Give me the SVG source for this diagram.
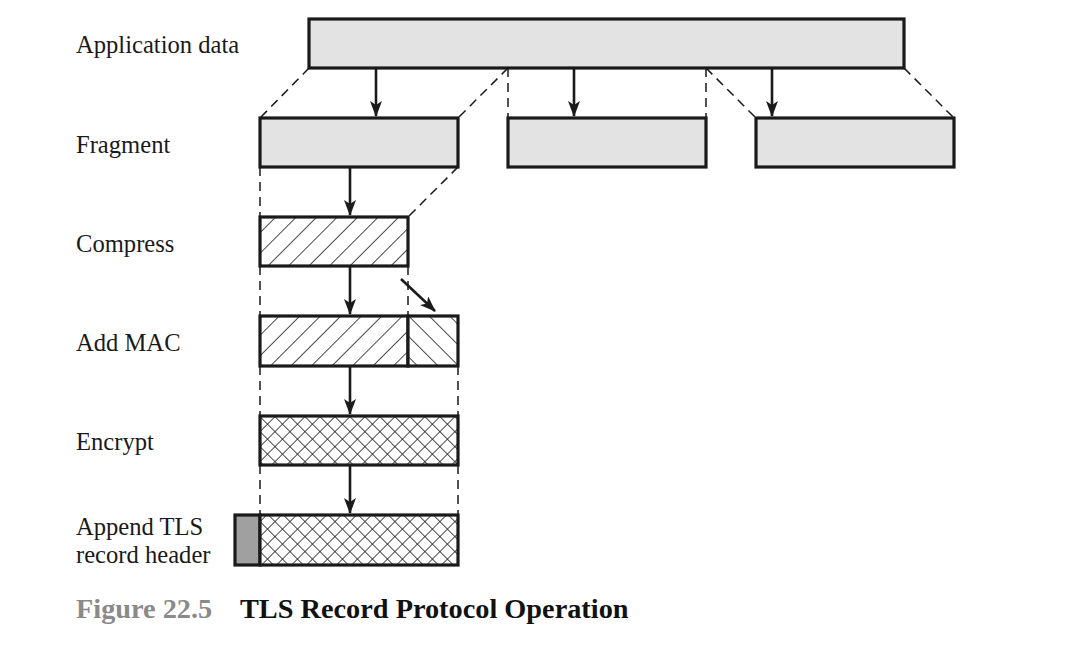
<svg xmlns="http://www.w3.org/2000/svg" width="1080" height="658" viewBox="0 0 1080 658">
<style>
.lbl{font-family:"Liberation Serif","Times New Roman",serif;font-size:24.6px;fill:#1a1a1a}
.cap{font-family:"Liberation Serif","Times New Roman",serif;font-size:28.3px;font-weight:bold}
.box{stroke:#1a1a1a;stroke-width:3.2}
.grey{fill:#e3e3e3}
.dash{stroke:#1a1a1a;stroke-width:1.5;stroke-dasharray:9 6;fill:none}
.arr{stroke:#1a1a1a;stroke-width:2.6;fill:none;marker-end:url(#ah)}
.h{stroke:#1e1e1e;stroke-width:1.6}
</style>
<defs>
<marker id="ah" viewBox="0 0 16 12" refX="15" refY="6" markerWidth="16" markerHeight="12" markerUnits="userSpaceOnUse" orient="auto">
<path d="M0,0 L16,6 L0,12 L4,6 z" fill="#1a1a1a"/>
</marker>
<pattern id="fwd" width="14.5" height="14.5" patternUnits="userSpaceOnUse" patternTransform="rotate(45)">
<rect width="14.5" height="14.5" fill="#fff"/>
<line class="h" x1="0" y1="0" x2="0" y2="14.5"/>
</pattern>
<pattern id="back" width="14.5" height="14.5" patternUnits="userSpaceOnUse" patternTransform="translate(408 316) rotate(-45)">
<rect width="14.5" height="14.5" fill="#fff"/>
<line class="h" x1="0" y1="0" x2="0" y2="14.5"/>
</pattern>
<pattern id="cross" width="10.6" height="10.6" patternUnits="userSpaceOnUse" patternTransform="translate(260 416) rotate(45)">
<rect width="10.6" height="10.6" fill="#fff"/>
<line class="h" x1="0" y1="0" x2="0" y2="10.6"/>
<line class="h" x1="0" y1="0" x2="10.6" y2="0"/>
</pattern>
</defs>
<rect width="1080" height="658" fill="#fff"/>

<g id="labels">
<text class="lbl" x="76" y="53">Application data</text>
<text class="lbl" x="76" y="153">Fragment</text>
<text class="lbl" x="76" y="252">Compress</text>
<text class="lbl" x="76" y="351">Add MAC</text>
<text class="lbl" x="76" y="450">Encrypt</text>
<text class="lbl" x="76" y="535">Append TLS</text>
<text class="lbl" x="76" y="563">record header</text>
</g>

<g id="connectors">
<line class="dash" x1="309" y1="68" x2="260" y2="118"/>
<line class="dash" x1="508" y1="68" x2="458" y2="118"/>
<line class="dash" x1="508" y1="68" x2="508" y2="118"/>
<line class="dash" x1="706" y1="68" x2="706" y2="118"/>
<line class="dash" x1="706" y1="68" x2="756" y2="118"/>
<line class="dash" x1="904" y1="68" x2="954" y2="118"/>
<line class="dash" x1="260" y1="167" x2="260" y2="217"/>
<line class="dash" x1="458" y1="167" x2="408" y2="217"/>
<line class="dash" x1="260" y1="266" x2="260" y2="316"/>
<line class="dash" x1="408" y1="266" x2="408" y2="316"/>
<line class="dash" x1="260" y1="366" x2="260" y2="416"/>
<line class="dash" x1="458" y1="366" x2="458" y2="416"/>
<line class="dash" x1="260" y1="465" x2="260" y2="515"/>
<line class="dash" x1="458" y1="465" x2="458" y2="515"/>
<line class="arr" x1="376" y1="69" x2="376" y2="116"/>
<line class="arr" x1="574" y1="69" x2="574" y2="116"/>
<line class="arr" x1="772" y1="69" x2="772" y2="116"/>
<line class="arr" x1="350" y1="168" x2="350" y2="215"/>
<line class="arr" x1="350" y1="267" x2="350" y2="314"/>
<line class="arr" x1="350" y1="367" x2="350" y2="414"/>
<line class="arr" x1="350" y1="466" x2="350" y2="513"/>
<line class="arr" x1="401" y1="279" x2="435" y2="311"/>
</g>

<g id="app-data"><rect class="box grey" x="309" y="19" width="595" height="49"/></g>
<g id="fragment-1"><rect class="box grey" x="260" y="118" width="198" height="49"/></g>
<g id="fragment-2"><rect class="box grey" x="508" y="118" width="198" height="49"/></g>
<g id="fragment-3"><rect class="box grey" x="756" y="118" width="198" height="49"/></g>
<g id="compress"><rect class="box" fill="url(#fwd)" x="260" y="217" width="148" height="49"/></g>
<g id="add-mac">
<rect class="box" fill="url(#fwd)" x="260" y="316" width="148" height="50"/>
<rect class="box" fill="url(#back)" x="408" y="316" width="50" height="50"/>
</g>
<g id="encrypt"><rect class="box" fill="url(#cross)" x="260" y="416" width="198" height="49"/></g>
<g id="append-header">
<rect class="box" fill="#a0a0a0" x="235" y="515" width="25" height="50"/>
<rect class="box" fill="url(#cross)" x="260" y="515" width="198" height="50"/>
</g>

<g id="caption">
<text class="cap" x="76" y="618" fill="#8a8a8a">Figure 22.5</text>
<text class="cap" x="240" y="618" fill="#111">TLS Record Protocol Operation</text>
</g>
</svg>
